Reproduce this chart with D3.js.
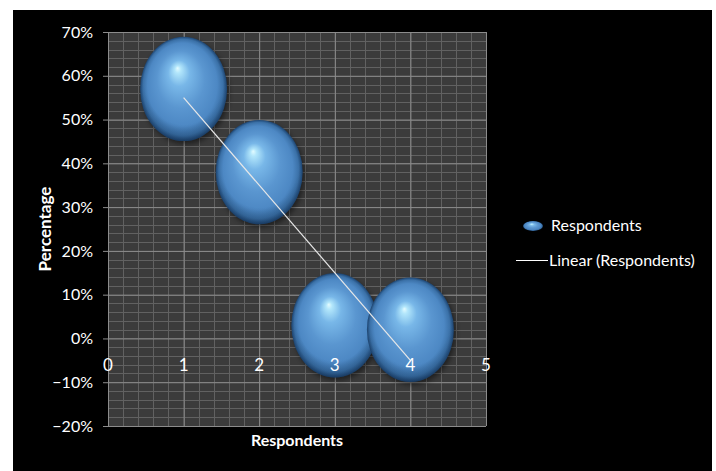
<!DOCTYPE html>
<html>
<head>
<meta charset="utf-8">
<script src="https://cdn.jsdelivr.net/npm/d3@7"></script>
<style>
  body { margin: 0; background: #ffffff; }
  text { font-family: "Lato", sans-serif; fill: #ffffff; }
</style>
</head>
<body>
<div id="chart"></div>
<script>
// chart data
var respondents = [1, 2, 3, 4];
var percentages = [0.57, 0.38, 0.03, 0.02];
var bubbleSizes = [1, 1, 1, 1];
var xTicks = [0, 1, 2, 3, 4, 5];
var yTicks = [-0.2, -0.1, 0, 0.1, 0.2, 0.3, 0.4, 0.5, 0.6, 0.7];
var legendLabels = ["Respondents", "Linear (Respondents)"];

var svgWidth = 716;
var svgHeight = 471;

var Margin = { top: 32, right: 230, bottom: 45, left: 108 };
var width = 486 - Margin.left;
var height = 426 - Margin.top;

var svg = d3.select("#chart")
  .append("svg")
  .attr("width", svgWidth)
  .attr("height", svgHeight);

// black chart background
svg.append("rect")
  .attr("x", 13).attr("y", 10)
  .attr("width", 699).attr("height", 461)
  .attr("fill", "#000000");

var defs = svg.append("defs");
var grad = defs.append("radialGradient")
  .attr("id", "sphere")
  .attr("cx", "0.5").attr("cy", "0.5").attr("r", "0.5")
  .attr("fx", "0.43").attr("fy", "0.3");
[["0", "#e4fcff"], ["0.07", "#b2e6fb"], ["0.25", "#78b7e8"], ["0.55", "#5a96d0"],
 ["0.8", "#4d88c4"], ["0.92", "#3b71a8"], ["1", "#1d4470"]].forEach(function(s) {
  grad.append("stop").attr("offset", s[0]).attr("stop-color", s[1]);
});

// darker edge towards the bottom of each bubble
var rim = defs.append("radialGradient")
  .attr("id", "rim")
  .attr("cx", "0.5").attr("cy", "0.38").attr("r", "0.64");
rim.append("stop").attr("offset", "0.72").attr("stop-color", "#1a3d63").attr("stop-opacity", 0);
rim.append("stop").attr("offset", "0.9").attr("stop-color", "#1a3d63").attr("stop-opacity", 0.3);
rim.append("stop").attr("offset", "1").attr("stop-color", "#10294a").attr("stop-opacity", 0.6);

defs.append("filter").attr("id", "blur")
  .append("feGaussianBlur").attr("stdDeviation", 2.5);

var chartGroup = svg.append("g")
  .attr("transform", `translate(${Margin.left}, ${Margin.top})`);

var xScale = d3.scaleLinear().domain([0, 5]).range([0, width]);
var yScale = d3.scaleLinear().domain([-0.2, 0.7]).range([height, 0]);
var rScale = d3.scaleSqrt().domain([0, d3.max(bubbleSizes)]).range([0, 43.5]);

// plot area
chartGroup.append("rect")
  .attr("width", width).attr("height", height)
  .attr("fill", "#3b3b3b");

// minor gridlines
chartGroup.append("g")
  .attr("stroke", "#616161")
  .attr("stroke-width", 1)
  .call(g => {
    g.selectAll("line.mx").data(d3.range(0, 5.0001, 0.2)).enter().append("line")
      .attr("x1", d => Math.round(xScale(d)) + 0.5).attr("x2", d => Math.round(xScale(d)) + 0.5)
      .attr("y1", 0).attr("y2", height);
    g.selectAll("line.my").data(d3.range(-0.2, 0.7001, 0.02)).enter().append("line")
      .attr("y1", d => Math.round(yScale(d)) + 0.5).attr("y2", d => Math.round(yScale(d)) + 0.5)
      .attr("x1", 0).attr("x2", width);
  });

// major gridlines
var xGrid = chartGroup.append("g")
  .attr("transform", `translate(0, ${height})`)
  .call(d3.axisBottom(xScale).tickValues(xTicks).tickSize(height).tickFormat(""));
xGrid.select(".domain").remove();
xGrid.selectAll(".tick line").attr("stroke", "#8c8c8c").attr("transform", `translate(0, ${-height}) `).attr("y2", height);

var yAxis = chartGroup.append("g")
  .call(d3.axisLeft(yScale).tickValues(yTicks).tickSizeInner(-width).tickSizeOuter(0).tickPadding(0)
    .tickFormat(d3.format(".0%")));
yAxis.select(".domain").attr("stroke", "#8c8c8c");
yAxis.selectAll(".tick line").attr("stroke", "#8c8c8c").attr("x1", -5);
yAxis.selectAll(".tick text")
  .attr("x", -15)
  .attr("font-size", "16px");

// bubble shadows
chartGroup.selectAll("ellipse.shadow")
  .data(respondents)
  .enter()
  .append("ellipse")
  .attr("cx", (d, i) => xScale(d) + 2)
  .attr("cy", (d, i) => yScale(percentages[i]) + 3)
  .attr("rx", (d, i) => rScale(bubbleSizes[i]))
  .attr("ry", (d, i) => rScale(bubbleSizes[i]) * 1.2)
  .attr("fill", "#000000")
  .attr("opacity", 0.45)
  .attr("filter", "url(#blur)");

// bubbles
var bubbles = chartGroup.selectAll("g.bubble")
  .data(respondents)
  .enter()
  .append("g");
bubbles.append("ellipse")
  .attr("cx", d => xScale(d))
  .attr("cy", (d, i) => yScale(percentages[i]))
  .attr("rx", (d, i) => rScale(bubbleSizes[i]))
  .attr("ry", (d, i) => rScale(bubbleSizes[i]) * 1.2)
  .attr("fill", "url(#sphere)");
bubbles.append("ellipse")
  .attr("cx", d => xScale(d))
  .attr("cy", (d, i) => yScale(percentages[i]))
  .attr("rx", (d, i) => rScale(bubbleSizes[i]))
  .attr("ry", (d, i) => rScale(bubbleSizes[i]) * 1.2)
  .attr("fill", "url(#rim)");

// linear trendline
var mx = d3.mean(respondents), my = d3.mean(percentages);
var slope = d3.sum(respondents, (d, i) => (d - mx) * (percentages[i] - my)) /
            d3.sum(respondents, d => (d - mx) * (d - mx));
var intercept = my - slope * mx;
var xMin = d3.min(respondents), xMax = d3.max(respondents);
chartGroup.append("line")
  .attr("x1", xScale(xMin)).attr("y1", yScale(intercept + slope * xMin))
  .attr("x2", xScale(xMax)).attr("y2", yScale(intercept + slope * xMax))
  .attr("stroke", "#e8e8e8")
  .attr("stroke-width", 1.2);

// x tick labels (axis crosses at 0%)
chartGroup.selectAll("text.xlab")
  .data(xTicks)
  .enter()
  .append("text")
  .attr("x", d => xScale(d))
  .attr("y", yScale(0) + 33)
  .attr("text-anchor", "middle")
  .attr("font-size", "17px")
  .text(d => d);

// axis titles
svg.append("text")
  .attr("transform", "translate(51, 229) rotate(-90)")
  .attr("text-anchor", "middle")
  .attr("font-size", "17px")
  .attr("font-weight", "bold")
  .text("Percentage");

svg.append("text")
  .attr("x", 297).attr("y", 446)
  .attr("text-anchor", "middle")
  .attr("font-size", "16px")
  .attr("font-weight", "bold")
  .text("Respondents");

// legend
var legend = svg.append("g");
legend.append("ellipse")
  .attr("cx", 533).attr("cy", 226).attr("rx", 10).attr("ry", 5)
  .attr("fill", "url(#sphere)");
legend.append("text")
  .attr("x", 551).attr("y", 231)
  .attr("font-size", "16px")
  .text(legendLabels[0]);
legend.append("line")
  .attr("x1", 516).attr("x2", 548).attr("y1", 260.5).attr("y2", 260.5)
  .attr("stroke", "#ffffff").attr("stroke-width", 1);
legend.append("text")
  .attr("x", 549).attr("y", 266)
  .attr("font-size", "16px")
  .text(legendLabels[1]);
</script>
</body>
</html>
